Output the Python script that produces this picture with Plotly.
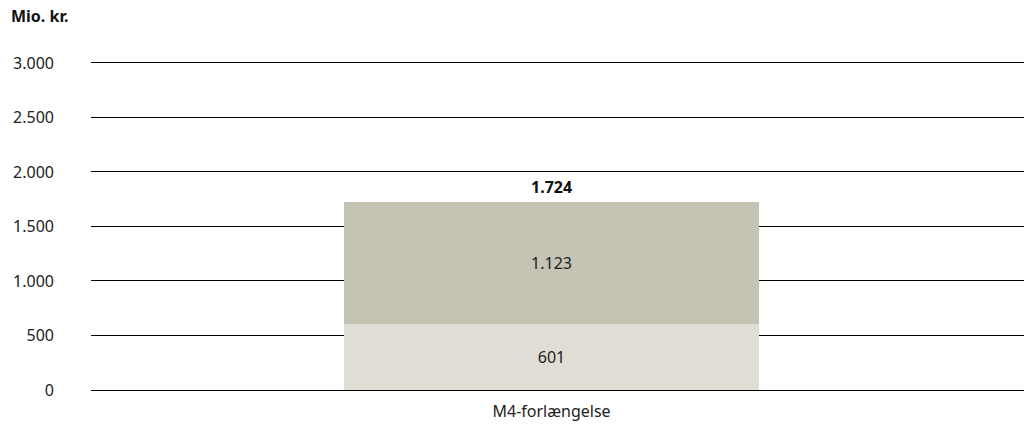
import plotly.graph_objects as go

# Data
categories = ["M4-forlængelse"]
lower_values = [601]
upper_values = [1123]
totals = [1724]
y_ticks = [0, 500, 1000, 1500, 2000, 2500, 3000]

FONT = "Noto Sans"
FS = 16

fig = go.Figure()
fig.add_trace(go.Bar(
    x=categories, y=lower_values,
    marker=dict(color="#E0DDD5", line=dict(width=0)),
    text=[f"{v:,}".replace(",", ".") for v in lower_values],
    textposition="inside", insidetextanchor="middle",
    textfont=dict(family=FONT, size=FS, color="#222222"),
    width=0.445, showlegend=False, hoverinfo="skip",
))
fig.add_trace(go.Bar(
    x=categories, y=upper_values,
    marker=dict(color="#C5C3B4", line=dict(width=0)),
    text=[f"{v:,}".replace(",", ".") for v in upper_values],
    textposition="inside", insidetextanchor="middle",
    textfont=dict(family=FONT, size=FS, color="#222222"),
    width=0.445, showlegend=False, hoverinfo="skip",
))

for c, t in zip(categories, totals):
    fig.add_annotation(
        x=c, y=t, text=f"<b>{t:,}</b>".replace(",", "."),
        showarrow=False, yanchor="bottom", yshift=2,
        font=dict(family=FONT, size=FS, color="#111111"),
    )

fig.add_annotation(
    xref="paper", yref="paper", x=-82/933, y=1,
    xanchor="left", yanchor="bottom", yshift=30,
    text="<b>Mio. kr.</b>", showarrow=False,
    font=dict(family=FONT, size=FS, color="#111111"),
)

fig.update_layout(
    barmode="stack",
    width=1024, height=428,
    margin=dict(l=91, r=0, t=59, b=38),
    plot_bgcolor="white", paper_bgcolor="white",
    separators=",.",
    font=dict(family=FONT, size=FS, color="#222222"),
    xaxis=dict(
        range=[-0.4936, 0.5064], showgrid=False, showline=False,
        ticks="", tickfont=dict(family=FONT, size=FS),
        ticklabelstandoff=10,
    ),
    yaxis=dict(
        range=[0, 3036], tickvals=y_ticks, tickformat=",d",
        showgrid=True, gridcolor="#000000", gridwidth=1,
        zeroline=True, zerolinecolor="#000000", zerolinewidth=1,
        showline=False, ticks="", ticklabelstandoff=36,
        tickfont=dict(family=FONT, size=FS),
    ),
)

fig.write_html("out.html")
